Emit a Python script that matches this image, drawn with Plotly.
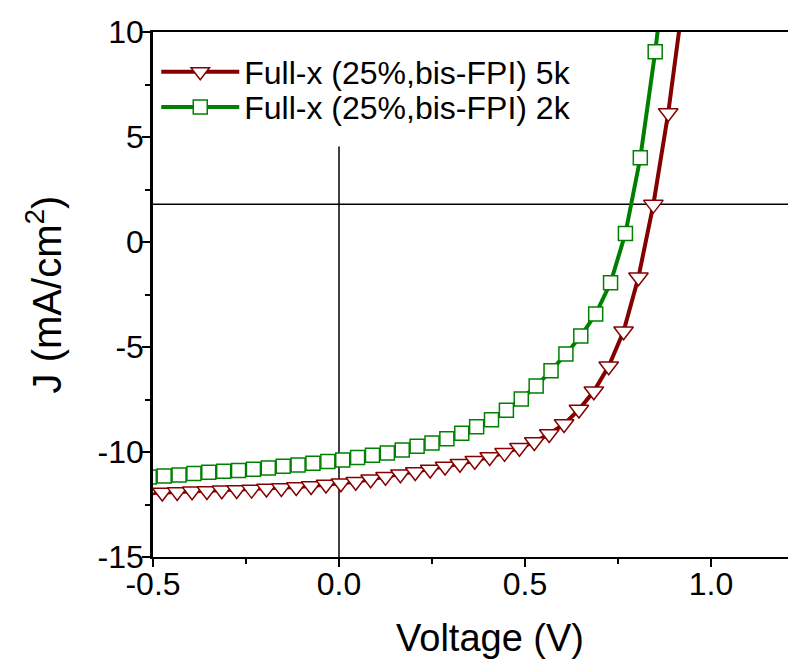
import plotly.graph_objects as go

# ---- data ----
V_5K = [-0.515, -0.475, -0.435, -0.395, -0.355, -0.315, -0.275, -0.235, -0.195, -0.155,
        -0.115, -0.075, -0.035, 0.005, 0.045, 0.085, 0.125, 0.165, 0.205, 0.245,
        0.285, 0.325, 0.365, 0.405, 0.445, 0.485, 0.525, 0.565, 0.605, 0.645,
        0.685, 0.725, 0.765, 0.805, 0.845, 0.885, 0.925]
J_5K = [-11.96, -11.93, -11.90, -11.87, -11.86, -11.82, -11.81, -11.79, -11.74, -11.71,
        -11.67, -11.62, -11.55, -11.49, -11.42, -11.30, -11.18, -11.06, -10.95, -10.83,
        -10.69, -10.56, -10.42, -10.24, -10.04, -9.80, -9.52, -9.14, -8.67, -7.98,
        -7.11, -5.92, -4.25, -1.68, 1.78, 6.14, 11.5]

V_2K = [-0.51, -0.47, -0.43, -0.39, -0.35, -0.31, -0.27, -0.23, -0.19, -0.15,
        -0.11, -0.07, -0.03, 0.01, 0.05, 0.09, 0.13, 0.17, 0.21, 0.25,
        0.29, 0.33, 0.37, 0.41, 0.45, 0.49, 0.53, 0.57, 0.61, 0.65,
        0.69, 0.73, 0.77, 0.81, 0.85, 0.89]
J_2K = [-11.19, -11.14, -11.10, -11.02, -10.97, -10.92, -10.88, -10.82, -10.76, -10.68,
        -10.62, -10.54, -10.45, -10.38, -10.26, -10.16, -10.05, -9.90, -9.73, -9.57,
        -9.37, -9.11, -8.80, -8.46, -8.01, -7.48, -6.86, -6.13, -5.33, -4.48,
        -3.43, -1.94, 0.41, 4.01, 9.06, 15.0]

NAME_5K = "Full-x (25%,bis-FPI) 5k"
NAME_2K = "Full-x (25%,bis-FPI) 2k"
X_TITLE = "Voltage (V)"
Y_TITLE = "J (mA/cm<sup>2</sup>)"

X_TICKS = [-0.5, 0.0, 0.5, 1.0]
X_TICK_TEXT = ["-0.5", "0.0", "0.5", "1.0"]
Y_TICKS = [10, 5, 0, -5, -10, -15]
Y_TICK_TEXT = ["10", "5", "0", "-5", "-10", "-15"]

H_LINE_J = 1.8      # horizontal guide line
V_LINE_V = 0.0      # vertical guide line position
V_LINE_TOP = 4.55   # vertical guide line top

RED = "#850000"
GREEN = "#008000"
FONT = "Liberation Sans, Arial, sans-serif"

fig = go.Figure()
fig.add_trace(go.Scatter(
    x=V_5K, y=J_5K, name=NAME_5K, mode="lines+markers", legend="legend",
    line=dict(color=RED, width=4),
    marker=dict(symbol="triangle-down", size=17, color="white",
                line=dict(color=RED, width=1.5)),
))
fig.add_trace(go.Scatter(
    x=V_2K, y=J_2K, name=NAME_2K, mode="lines+markers", legend="legend2",
    line=dict(color=GREEN, width=4),
    marker=dict(symbol="square", size=14, color="white",
                line=dict(color=GREEN, width=1.5)),
))

fig.add_shape(type="line", xref="paper", yref="y", x0=0, x1=1, y0=H_LINE_J, y1=H_LINE_J,
              line=dict(color="black", width=1.5), layer="below")
fig.add_shape(type="line", xref="x", yref="y", x0=V_LINE_V, x1=V_LINE_V, y0=-15, y1=V_LINE_TOP,
              line=dict(color="black", width=1.5), layer="below")

# x-axis title as an annotation so it can sit at the reference's horizontal position
fig.add_annotation(text=X_TITLE, xref="paper", yref="paper", x=0.518, y=0,
                   xanchor="center", yanchor="top", yshift=-58, showarrow=False,
                   font=dict(size=38, family=FONT, color="black"))

legend_common = dict(x=0.005, xanchor="left", yanchor="middle",
                     bgcolor="rgba(0,0,0,0)", font=dict(size=32, family=FONT),
                     itemwidth=78, tracegroupgap=0)

# the page body adds an 8 px offset, so margins are 8 px smaller than the on-screen layout
fig.update_layout(
    width=796, height=666,
    margin=dict(l=145, r=0, t=24, b=117, autoexpand=False),
    paper_bgcolor="white", plot_bgcolor="white",
    font=dict(family=FONT, color="black", size=32),
    showlegend=True,
    legend=dict(y=0.924, **legend_common),
    legend2=dict(y=0.857, **legend_common),
)
fig.update_xaxes(
    range=[-0.5, 1.25], showgrid=False, zeroline=False, automargin=False,
    showline=True, linecolor="black", linewidth=2, mirror=True,
    ticks="outside", ticklen=8, tickwidth=2, tickcolor="black",
    tickvals=X_TICKS, ticktext=X_TICK_TEXT, tickfont=dict(size=32),
    ticklabelstandoff=-10,
    minor=dict(ticks="outside", ticklen=5, tickwidth=2, tickcolor="black", dtick=0.25, tick0=0),
)
fig.update_yaxes(
    range=[-15, 10], showgrid=False, zeroline=False, automargin=False,
    showline=True, linecolor="black", linewidth=2.5, mirror=False,
    ticks="outside", ticklen=8, tickwidth=2, tickcolor="black",
    tickvals=Y_TICKS, ticktext=Y_TICK_TEXT, tickfont=dict(size=32),
    ticklabelstandoff=-8,
    minor=dict(ticks="outside", ticklen=5, tickwidth=2, tickcolor="black", dtick=2.5, tick0=0),
    title=dict(text=Y_TITLE, font=dict(size=40), standoff=24),
)

fig.write_html("out.html")
